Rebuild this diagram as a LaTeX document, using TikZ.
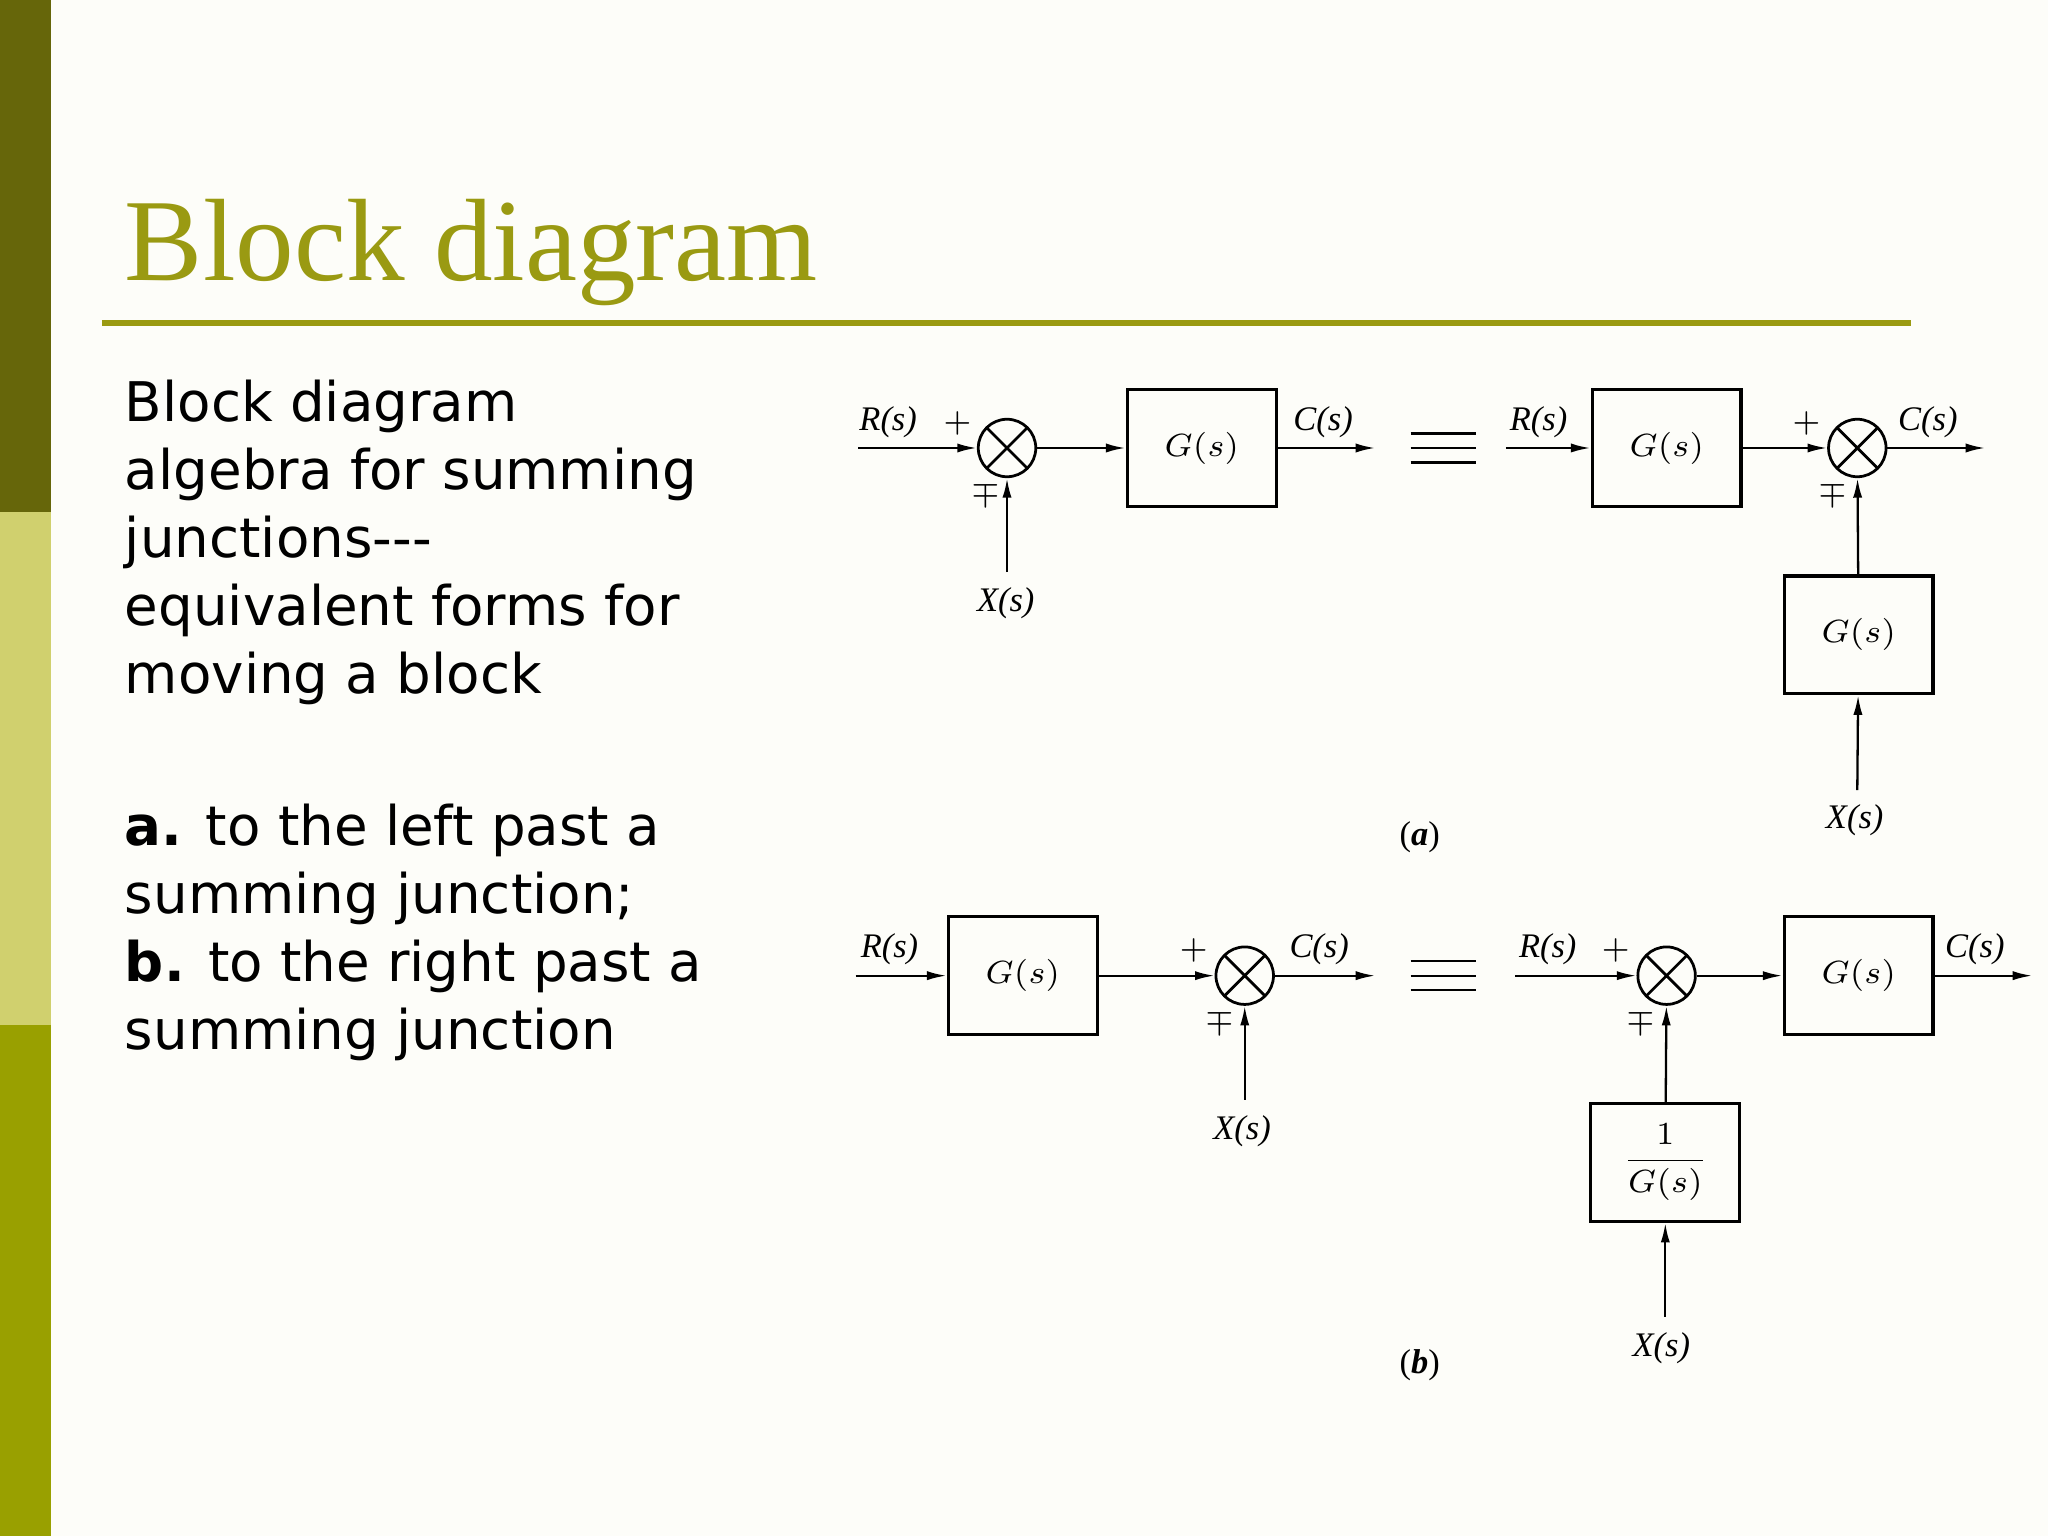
\documentclass[tikz,border=0pt]{standalone}
\usepackage{fontspec}
\setmainfont{Liberation Serif}
\newfontfamily\bodyfont{DejaVu Sans}
\usetikzlibrary{arrows.meta}
\definecolor{olive}{HTML}{9A9A12}
\definecolor{darkol}{HTML}{66660A}
\definecolor{lightol}{HTML}{D0D06E}
\definecolor{midol}{HTML}{99A000}
\begin{document}
\begin{tikzpicture}[x=0.01cm,y=-0.01cm,
  blk/.style={draw,line width=0.7pt,minimum width=1.14cm,minimum height=0.9cm,inner sep=0pt,font=\fontsize{7.5}{9}\selectfont},
  sum/.style={draw,circle,line width=0.6pt,minimum size=0.44cm,inner sep=0pt,path picture={\draw[line width=0.6pt] (path picture bounding box.north west)--(path picture bounding box.south east) (path picture bounding box.north east)--(path picture bounding box.south west);}},
  lab/.style={font=\fontsize{7.5}{9}\selectfont\itshape},
  sg/.style={font=\fontsize{7}{8}\selectfont},
  sig/.style={line width=0.5pt},
  arr/.style={sig,-{Latex[length=0.15cm,width=0.07cm]}},
  body/.style={font=\bodyfont\fontsize{11.9}{14.8}\selectfont,anchor=north west,align=left,inner sep=0pt}]
\fill[fill={rgb,255:red,253;green,253;blue,249}] (0,0) rectangle (1568,1176);
\useasboundingbox (0,0) rectangle (1568,1176);
\fill[darkol] (0,0) rectangle (39,392);
\fill[lightol] (0,392) rectangle (39,785);
\fill[midol] (0,785) rectangle (39,1176);
\node[anchor=base west,inner sep=0pt,text=olive,font=\fontsize{25.5}{30}\selectfont] (title) at (95,215) {Block diagram};
\draw[olive,line width=1.3pt] (78,247) -- (1463,247);
\node[body] (t1) at (95,290) {Block diagram\\algebra for summing\\junctions---\\equivalent forms for\\moving a block};
\node[body] (t2) at (95,615) {\textbf{a.} to the left past a\\summing junction;\\\textbf{b.} to the right past a\\summing junction};
% (a) left
\coordinate (ra) at (657,343);
\node[sum] (s1) at (771,343) {};
\node[blk] (g1) at (920,343) {$G(s)$};
\coordinate (c1) at (1053,343);
\coordinate (x1) at (771,438);
\draw[arr] (ra) -- (s1);
\draw[arr] (s1) -- (g1);
\draw[arr] (g1) -- (c1);
\draw[arr] (x1) -- (s1);
\node[lab] (lr1) at (680,323) {R(s)};
\node[sg] (p1) at (733,324) {$+$};
\node[sg] (m1) at (755,378) {$\mp$};
\node[lab] (lx1) at (770,462) {X(s)};
\node[lab] (lc1) at (1013,323) {C(s)};
\node (eq1) at (1105,343) {\tikz[x=0.01cm,y=-0.01cm]{\draw[line width=0.5pt] (0,0)--(50,0) (0,11)--(50,11) (0,22)--(50,22);}};
% (a) right
\coordinate (ra2) at (1153,343);
\node[blk] (g2) at (1276,343) {$G(s)$};
\node[sum] (s2) at (1422,343) {};
\coordinate (c2) at (1520,343);
\node[blk] (g3) at (1423,486) {$G(s)$};
\coordinate (x2) at (1422,605);
\draw[arr] (ra2) -- (g2);
\draw[arr] (g2) -- (s2);
\draw[arr] (s2) -- (c2);
\draw[arr] (g3) -- (s2);
\draw[arr] (x2) -- (g3);
\node[lab] (lr2) at (1178,323) {R(s)};
\node[sg] (p2) at (1383,324) {$+$};
\node[sg] (m2) at (1403,378) {$\mp$};
\node[lab] (lc2) at (1476,323) {C(s)};
\node[lab] (lx2) at (1420,628) {X(s)};
\node[font=\fontsize{7.5}{9}\selectfont] (la) at (1087,641) {(\textbf{\textit{a}})};
% (b) left
\coordinate (rb) at (655,747);
\node[blk] (g4) at (783,747) {$G(s)$};
\node[sum] (s3) at (953,747) {};
\coordinate (c3) at (1053,747);
\coordinate (x3) at (953,842);
\draw[arr] (rb) -- (g4);
\draw[arr] (g4) -- (s3);
\draw[arr] (s3) -- (c3);
\draw[arr] (x3) -- (s3);
\node[lab] (lr3) at (681,727) {R(s)};
\node[sg] (p3) at (914,728) {$+$};
\node[sg] (m3) at (934,782) {$\mp$};
\node[lab] (lc3) at (1010,727) {C(s)};
\node[lab] (lx3) at (951,866) {X(s)};
\node (eq2) at (1105,747) {\tikz[x=0.01cm,y=-0.01cm]{\draw[line width=0.5pt] (0,0)--(50,0) (0,11)--(50,11) (0,22)--(50,22);}};
% (b) right
\coordinate (rb2) at (1160,747);
\node[sum] (s4) at (1276,747) {};
\node[blk] (g5) at (1423,747) {$G(s)$};
\coordinate (c4) at (1556,747);
\node[blk] (g6) at (1275,890) {$\displaystyle\frac{1}{G(s)}$};
\coordinate (x4) at (1275,1008);
\draw[arr] (rb2) -- (s4);
\draw[arr] (s4) -- (g5);
\draw[arr] (g5) -- (c4);
\draw[arr] (g6) -- (s4);
\draw[arr] (x4) -- (g6);
\node[lab] (lr4) at (1185,727) {R(s)};
\node[sg] (p4) at (1237,728) {$+$};
\node[sg] (m4) at (1256,782) {$\mp$};
\node[lab] (lc4) at (1512,727) {C(s)};
\node[lab] (lx4) at (1272,1032) {X(s)};
\node[font=\fontsize{7.5}{9}\selectfont] (lb) at (1087,1045) {(\textbf{\textit{b}})};
\end{tikzpicture}
\end{document}
